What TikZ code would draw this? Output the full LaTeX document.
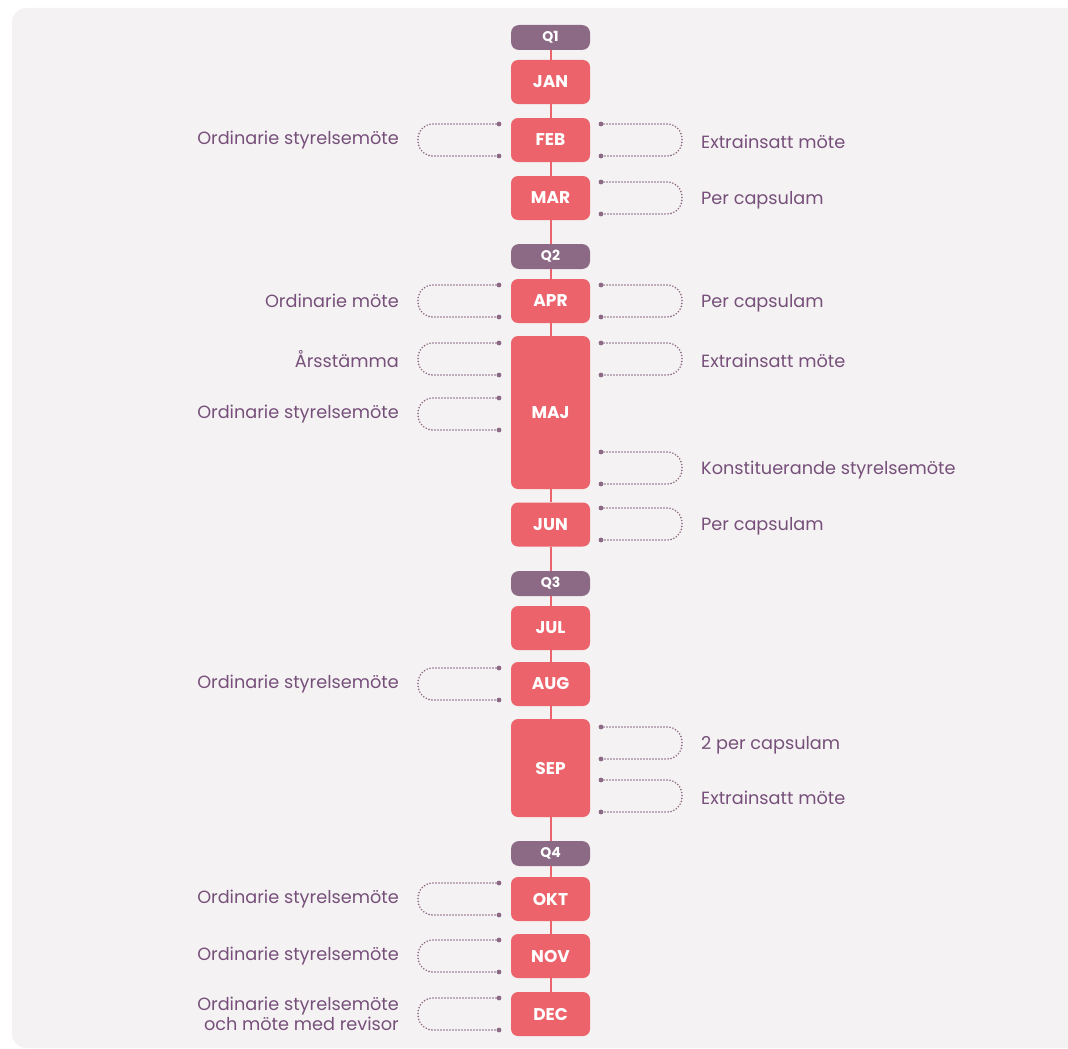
\documentclass[tikz,border=0pt]{standalone}
\usepackage{fontspec}
\setmainfont{Poppins}
\definecolor{panel}{HTML}{F5F2F3}
\definecolor{coral}{HTML}{EC636B}
\definecolor{plum}{HTML}{8C6A85}
\definecolor{labeltext}{HTML}{76507A}
\tikzset{
  month/.style={fill=coral, rounded corners=7pt, minimum width=79pt, minimum height=44pt,
    text=white, font=\fontsize{17}{19}\selectfont\bfseries, inner sep=0pt},
  quarter/.style={fill=plum, rounded corners=8pt, minimum width=79pt, minimum height=25pt,
    text=white, font=\fontsize{14}{16}\selectfont\bfseries, inner sep=0pt},
  spine/.style={coral, line width=2pt},
  loopline/.style={plum, line width=1.8pt, line cap=round, dash pattern=on 0pt off 3pt, rounded corners=15pt},
  lbl/.style={text=labeltext, font=\fontsize{17.7}{20.5}\selectfont, inner sep=0pt, align=right},
}
% loop to the left of the spine: name, top y, bottom y, label
\newcommand\leftloop[4]{%
  \coordinate (#1a) at (499,#2);
  \coordinate (#1b) at (499,#3);
  \draw[loopline] (#1a) -- (418,#2) -- (418,#3) -- (#1b);
  \fill[plum] (#1a) circle (2.4pt) (#1b) circle (2.4pt);
  \node[lbl, anchor=east] (#1t) at (399,{(#2+#3)/2}) {#4};
}
% loop to the right of the spine: name, top y, bottom y, label
\newcommand\rightloop[4]{%
  \coordinate (#1a) at (601,#2);
  \coordinate (#1b) at (601,#3);
  \draw[loopline] (#1a) -- (682,#2) -- (682,#3) -- (#1b);
  \fill[plum] (#1a) circle (2.4pt) (#1b) circle (2.4pt);
  \node[lbl, anchor=west] (#1t) at (701,{(#2+#3)/2+2}) {#4};
}
\begin{document}
\begin{tikzpicture}[x=1pt, y=-1pt]
\useasboundingbox (0,0) rectangle (1068,1049);
\clip (0,0) rectangle (1068,1049);
\fill[panel, rounded corners=14pt] (12,8) rectangle (1100,1048);

% quarters and months
\node[quarter] (q1) at (550.5,37.5) {Q1};
\node[month] (jan) at (550.5,82) {JAN};
\node[month] (feb) at (550.5,140) {FEB};
\node[month] (mar) at (550.5,198) {MAR};
\node[quarter] (q2) at (550.5,256.5) {Q2};
\node[month] (apr) at (550.5,301) {APR};
\node[month, minimum height=153pt] (maj) at (550.5,412.5) {MAJ};
\node[month] (jun) at (550.5,524.5) {JUN};
\node[quarter] (q3) at (550.5,583.5) {Q3};
\node[month] (jul) at (550.5,628) {JUL};
\node[month] (aug) at (550.5,684) {AUG};
\node[month, minimum height=98pt] (sep) at (550.5,768) {SEP};
\node[quarter] (q4) at (550.5,853.5) {Q4};
\node[month] (okt) at (550.5,899) {OKT};
\node[month] (nov) at (550.5,956) {NOV};
\node[month] (dec) at (550.5,1014) {DEC};

% spine linking the boxes
\foreach \a/\b in {q1/jan, jan/feb, feb/mar, mar/q2, q2/apr, apr/maj, maj/jun, jun/q3,
                   q3/jul, jul/aug, aug/sep, sep/q4, q4/okt, okt/nov, nov/dec}
  \draw[spine] (\a) -- (\b);

% meetings
\leftloop{febl}{124}{156}{Ordinarie styrelsemöte}
\rightloop{febr}{124}{156}{Extrainsatt möte}
\rightloop{marr}{182}{214}{Per capsulam}
\leftloop{aprl}{285}{317}{Ordinarie möte}
\rightloop{aprr}{285}{317}{Per capsulam}
\leftloop{majla}{343}{375}{Årsstämma}
\leftloop{majlb}{398}{430}{Ordinarie styrelsemöte}
\rightloop{majra}{343}{375}{Extrainsatt möte}
\rightloop{majrb}{452}{484}{Konstituerande styrelsemöte}
\rightloop{junr}{508}{540}{Per capsulam}
\leftloop{augl}{668}{700}{Ordinarie styrelsemöte}
\rightloop{sepra}{727}{759}{2 per capsulam}
\rightloop{seprb}{780}{812}{Extrainsatt möte}
\leftloop{oktl}{883}{915}{Ordinarie styrelsemöte}
\leftloop{novl}{940}{972}{Ordinarie styrelsemöte}
\leftloop{decl}{998}{1030}{Ordinarie styrelsemöte\\och möte med revisor}
\end{tikzpicture}
\end{document}
